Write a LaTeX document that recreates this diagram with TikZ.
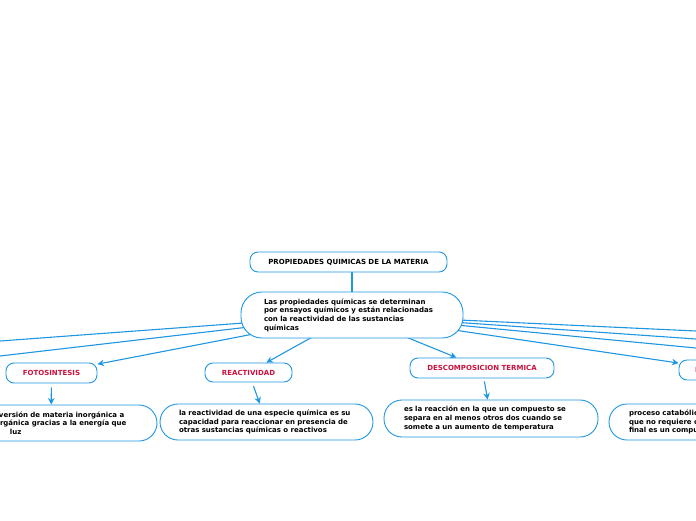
\documentclass[tikz,border=0pt]{standalone}
\usepackage{fontspec}
\setmainfont{DejaVu Sans}
\usetikzlibrary{arrows.meta,backgrounds}
\definecolor{mmblue}{RGB}{30,150,225}
\definecolor{mmred}{RGB}{204,17,62}
\begin{document}
\begin{tikzpicture}[x=1pt,y=-1pt,
  every node/.style={font=\fontsize{7}{8.7}\selectfont\bfseries},
  topic/.style={draw=mmblue,line width=0.9pt,fill=white,rounded corners=8pt,minimum height=20pt,text=mmred,inner sep=0pt},
  desc/.style={draw=mmblue,line width=0.9pt,fill=white,rounded corners=18pt,minimum height=36pt,align=left,inner xsep=19pt,inner ysep=0pt,text=black},
  link/.style={draw=mmblue,line width=1.1pt},
  arr/.style={link,-{Stealth[length=6.5pt,width=6.5pt]}}]
\useasboundingbox (0,0) rectangle (696,520);
\clip (0,0) rectangle (696,520);

\node[topic,text=black,minimum width=197pt] (title) at (348.5,262) {PROPIEDADES QUIMICAS DE LA MATERIA};
\node[draw=mmblue,line width=0.9pt,fill=white,rounded corners=21pt,minimum height=46pt,text width=176pt,inner xsep=23pt,inner ysep=0pt,align=left] (main) at (352,315)
  {Las propiedades químicas se determinan\\por ensayos químicos y están relacionadas\\con la reactividad de las sustancias\\químicas};

\node[topic,minimum width=91pt] (foto) at (51.5,373) {FOTOSINTESIS};
\node[topic,minimum width=87pt,minimum height=19pt] (react) at (248.5,372.5) {REACTIVIDAD};
\node[topic,minimum width=144pt] (desc) at (482,368) {DESCOMPOSICION TERMICA};
\node[topic,minimum width=94pt] (ferm) at (726,370) {FERMENTACION};

\node[desc,text width=174pt] (fotodesc) at (51,423)
  {\hspace*{35pt}versión de materia inorgánica a\\\hspace*{36pt}rgánica gracias a la energía que\\\hspace*{46pt}luz};
\node[desc,text width=175pt] (reactdesc) at (266.5,422)
  {la reactividad de una especie química es su\\capacidad para reaccionar en presencia de\\otras sustancias químicas o reactivos};
\node[desc,text width=174pt,inner xsep=20pt,minimum height=37pt] (descdesc) at (491,418.5)
  {es la reacción en la que un compuesto se\\separa en al menos otros dos cuando se\\somete a un aumento de temperatura};
\node[desc,text width=174pt,inner xsep=20pt] (fermdesc) at (716,422)
  {proceso catabólico de\\que no requiere oxígeno\\final es un compuesto};

\coordinate (l1) at (0,341);
\coordinate (l2) at (0,356);
\coordinate (r1) at (696,331);
\coordinate (r2) at (696,339);
\coordinate (r3) at (696,348);

\begin{scope}[on background layer]
  \clip (0,0) rectangle (696,520);
  \draw[link] (title.south -| main.center) -- (main.center);
  \draw[link] (main.center) -- (l1);
  \draw[link] (main.center) -- (l2);
  \draw[link] (main.center) -- (r1);
  \draw[link] (main.center) -- (r2);
  \draw[link] (main.center) -- (r3);
  \draw[arr] (main.center) -- (foto);
  \draw[arr] (main.center) -- (react);
  \draw[arr] (main.center) -- (desc);
  \draw[arr] (main.center) -- (ferm);
  \draw[arr,shorten <=4pt] (foto) -- (fotodesc);
  \draw[arr,shorten <=4pt] (react) -- (reactdesc);
  \draw[arr,shorten <=3pt] (desc) -- (descdesc);
\end{scope}
\end{tikzpicture}
\end{document}
